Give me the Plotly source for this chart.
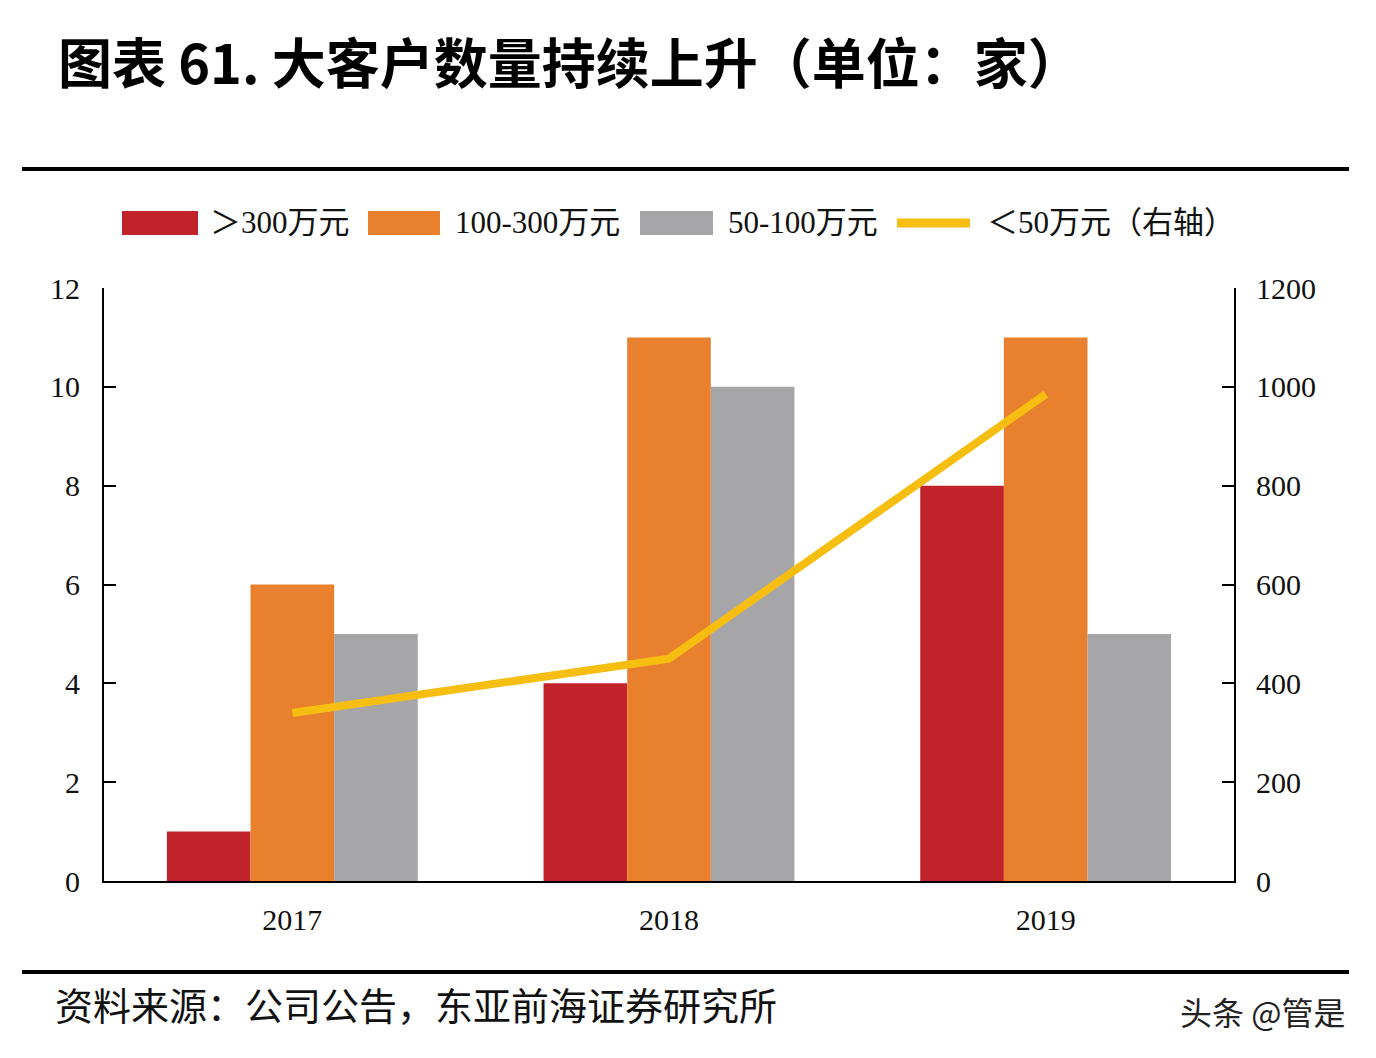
import plotly.graph_objects as go

years = ["2017", "2018", "2019"]
gt300 = [1, 4, 8]
r100_300 = [6, 11, 11]
r50_100 = [5, 10, 5]
lt50 = [340, 450, 985]

names = ["＞300万元", "100-300万元", "50-100万元", "＜50万元（右轴）"]
colors = ["#C0232A", "#E8802D", "#A6A6A8", "#F5BE10"]

OFF = 8  # default page body margin
W, H = 1376 - 2 * OFF, 1058 - 2 * OFF
# plot area in screen pixels: x 104..1234, y 288..881
L, T = 104 - OFF, 288 - OFF
R = (W + OFF) - 1234
B = (H + OFF) - 881
PW, PH = W - L - R, H - T - B


def px(x):
    return (x - OFF - L) / PW


def py(y):
    return (H - B - (y - OFF)) / PH


tickfont = dict(family="Liberation Serif, Noto Sans CJK SC", size=30, color="#111")

fig = go.Figure()
for vals, nm, c in zip([gt300, r100_300, r50_100], names[:3], colors[:3]):
    fig.add_trace(go.Bar(x=years, y=vals, name=nm, marker=dict(color=c, line=dict(width=0)),
                         showlegend=False))
fig.add_trace(go.Scatter(x=years, y=lt50, name=names[3], yaxis="y2", mode="lines",
                         line=dict(color=colors[3], width=8), showlegend=False))

fig.update_layout(
    width=W, height=H,
    margin=dict(l=L, r=R, t=T, b=B),
    paper_bgcolor="white", plot_bgcolor="white",
    barmode="group", bargap=0.334, bargroupgap=0.0,
    xaxis=dict(type="category", range=[-0.5, 2.5], showline=True, linecolor="black", linewidth=2,
               ticks="", tickfont=tickfont, ticklabelstandoff=11, showgrid=False, zeroline=False),
    yaxis=dict(range=[0, 12], dtick=2, showline=True, linecolor="black", linewidth=2,
               ticks="inside", ticklen=12, tickwidth=2, tickcolor="black", tickfont=tickfont,
               ticklabelstandoff=16, showgrid=False, zeroline=False),
    yaxis2=dict(range=[0, 1200], dtick=200, overlaying="y", side="right", showline=True,
                linecolor="black", linewidth=2, ticks="inside", ticklen=12, tickwidth=2,
                tickcolor="black", tickfont=tickfont, ticklabelstandoff=14, showgrid=False,
                zeroline=False),
)

shapes = []
ann = []
# horizontal rules
for yy in (169, 972):
    shapes.append(dict(type="line", xref="paper", yref="paper", x0=px(22), x1=px(1349),
                       y0=py(yy), y1=py(yy), line=dict(color="black", width=4)))

# manual legend
leg_y = 223
legfont = dict(family="Liberation Serif, Noto Sans CJK SC", size=31, color="#111")
sw = [(122, 198, 208), (368, 440, 453), (640, 713, 726)]
for (x0, x1, tx), nm, c in zip(sw, names[:3], colors[:3]):
    shapes.append(dict(type="rect", xref="paper", yref="paper", x0=px(x0), x1=px(x1),
                       y0=py(leg_y + 12), y1=py(leg_y - 12), fillcolor=c, line=dict(width=0)))
    ann.append(dict(text=nm, xref="paper", yref="paper", x=px(tx), y=py(leg_y), xanchor="left",
                    yanchor="middle", showarrow=False, font=legfont))
shapes.append(dict(type="line", xref="paper", yref="paper", x0=px(897), x1=px(970),
                   y0=py(leg_y), y1=py(leg_y), line=dict(color=colors[3], width=9)))
ann.append(dict(text=names[3], xref="paper", yref="paper", x=px(985), y=py(leg_y), xanchor="left",
                yanchor="middle", showarrow=False, font=legfont))

# title
ann.append(dict(text="<b>图表 61. 大客户数量持续上升（单位：家）</b>", xref="paper", yref="paper",
                x=px(56), y=py(60), xanchor="left", yanchor="middle", showarrow=False,
                font=dict(family="Noto Sans CJK SC", size=54, color="black")))
# footer
ann.append(dict(text="资料来源：公司公告，东亚前海证券研究所", xref="paper", yref="paper",
                x=px(53), y=py(1003), xanchor="left", yanchor="middle", showarrow=False,
                font=dict(family="Noto Sans CJK SC", size=38, color="#111")))
ann.append(dict(text="头条 @管是", xref="paper", yref="paper",
                x=px(1347), y=py(1011), xanchor="right", yanchor="middle", showarrow=False,
                font=dict(family="Noto Sans CJK SC", size=32, color="#222")))

fig.update_layout(shapes=shapes, annotations=ann)
fig.write_html("out.html")
